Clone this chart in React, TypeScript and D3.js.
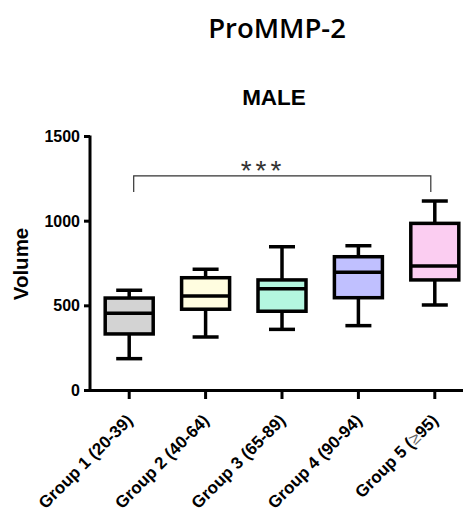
import React from "react";
import * as d3 from "d3";

// Age groups and their box-plot summaries (Volume)
const groups = [
  "Group 1 (20-39)",
  "Group 2 (40-64)",
  "Group 3 (65-89)",
  "Group 4 (90-94)",
  "Group 5 (\u226595)",
];
const mins = [188, 316, 361, 383, 505];
const q1s = [334, 480, 468, 548, 653];
const medians = [456, 558, 601, 698, 735];
const q3s = [546, 666, 653, 790, 987];
const maxs = [592, 716, 849, 855, 1119];
const fills = ["#d3d3d3", "#fffde0", "#b4f6df", "#c0c0ff", "#fbcdf1"];
const yTicks = [0, 500, 1000, 1500];

// Significance bracket between Group 1 and Group 5
const bracketLevel = 1268;
const bracketFoot = 1172;
const bracketLabel = "***";

const W = 463;
const H = 513;

// Splits a label so the "≥" sign can be drawn in its own lighter style
function labelParts(g: string) {
  const i = g.indexOf("\u2265");
  if (i < 0) return [g];
  return [g.slice(0, i), "\u2265", g.slice(i + 1)];
}

export default function App() {
  const x = d3.scaleBand<string>().domain(groups).range([91, 473]).padding(0);
  const y = d3.scaleLinear().domain([0, 1500]).range([390.5, 136.5]);
  const bw = 48;
  const capHalf = 13;
  const sans = "'Liberation Sans', Arial, sans-serif";

  const cx = (g: string) => (x(g) as number) + x.bandwidth() / 2;
  const bx1 = cx(groups[0]) + 4.5;
  const bx2 = cx(groups[4]) - 4;
  const starSpacing = 4;

  return (
    <svg
      width={W}
      height={H}
      style={{ position: "absolute", left: 0, top: 0, background: "#fff" }}
    >
      <text
        x={277}
        y={38}
        textAnchor="middle"
        fontFamily="'Open Sans', sans-serif"
        fontWeight={600}
        fontSize={27.5}
        fill="#000"
      >
        ProMMP-2
      </text>
      <text
        x={274}
        y={105}
        textAnchor="middle"
        fontFamily={sans}
        fontWeight="bold"
        fontSize={22.5}
        fill="#000"
      >
        MALE
      </text>

      {/* y axis */}
      <line x1={90} x2={90} y1={y(1500) - 1} y2={y(0) + 1.5} stroke="#000" strokeWidth={3} />
      {yTicks.map((t) => (
        <g key={t}>
          <line x1={84} x2={90} y1={y(t)} y2={y(t)} stroke="#000" strokeWidth={3} />
          <text
            x={80}
            y={y(t) + 5.5}
            textAnchor="end"
            fontFamily={sans}
            fontWeight="bold"
            fontSize={16}
            fill="#000"
          >
            {t}
          </text>
        </g>
      ))}
      <text
        transform={`translate(28,264) rotate(-90)`}
        textAnchor="middle"
        fontFamily={sans}
        fontWeight="bold"
        fontSize={20.5}
        fill="#000"
      >
        Volume
      </text>

      {/* x axis */}
      <line x1={88.5} x2={473} y1={y(0)} y2={y(0)} stroke="#000" strokeWidth={3} />
      {groups.map((g) => (
        <g key={g}>
          <line x1={cx(g)} x2={cx(g)} y1={y(0)} y2={y(0) + 8.5} stroke="#000" strokeWidth={3} />
          <text
            transform={`translate(${cx(g) + 4.5},${y(0) + 31}) rotate(-45)`}
            textAnchor="end"
            fontFamily={sans}
            fontWeight="bold"
            fontSize={17}
            fill="#000"
          >
            {labelParts(g).map((p, k) =>
              p === "\u2265" ? (
                <tspan key={k} fontWeight="normal" fill="#666">
                  {p}
                </tspan>
              ) : (
                <tspan key={k}>{p}</tspan>
              )
            )}
          </text>
        </g>
      ))}

      {/* boxes */}
      {groups.map((g, i) => {
        const c = cx(g);
        return (
          <g key={"b" + g} stroke="#000" strokeWidth={3.5}>
            <line x1={c} x2={c} y1={y(maxs[i])} y2={y(q3s[i])} />
            <line x1={c} x2={c} y1={y(q1s[i])} y2={y(mins[i])} />
            <line x1={c - capHalf} x2={c + capHalf} y1={y(maxs[i])} y2={y(maxs[i])} />
            <line x1={c - capHalf} x2={c + capHalf} y1={y(mins[i])} y2={y(mins[i])} />
            <rect
              x={c - bw / 2}
              y={y(q3s[i])}
              width={bw}
              height={y(q1s[i]) - y(q3s[i])}
              fill={fills[i]}
            />
            <line x1={c - bw / 2} x2={c + bw / 2} y1={y(medians[i])} y2={y(medians[i])} />
          </g>
        );
      })}

      {/* significance bracket */}
      <path
        d={`M${bx1},${y(bracketFoot)}V${y(bracketLevel)}H${bx2}V${y(bracketFoot)}`}
        fill="none"
        stroke="#333"
        strokeWidth={1.2}
      />
      <text
        x={261 + starSpacing / 2}
        y={y(bracketLevel) + 4.5}
        textAnchor="middle"
        fontFamily={sans}
        fontSize={28}
        letterSpacing={starSpacing}
        fill="#333"
      >
        {bracketLabel}
      </text>
    </svg>
  );
}
